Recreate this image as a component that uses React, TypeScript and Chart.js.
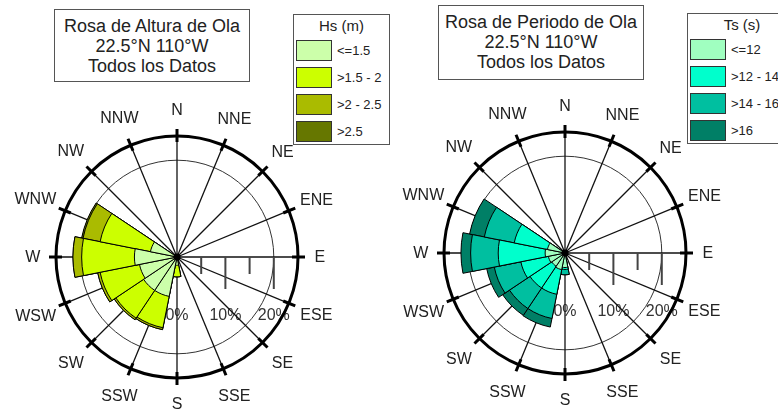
import React, { useEffect, useRef } from 'react';
import { Chart, registerables } from 'chart.js';

Chart.register(...registerables);

// ---------- data ----------
const directions = ['N', 'NNE', 'NE', 'ENE', 'E', 'ESE', 'SE', 'SSE', 'S', 'SSW', 'SW', 'WSW', 'W', 'WNW', 'NW', 'NNW'];

const hsBinLabels = ['<=1.5', '>1.5 - 2', '>2 - 2.5', '>2.5'];
const hsLe15 = [0, 0, 0, 0, 0, 0, 0, 0, 1.7, 8.3, 8.3, 7.9, 8.8, 5.6, 0, 0];
const hs15to2 = [0, 0, 0, 0, 0, 0, 0, 0, 2.4, 6.6, 6.9, 8.3, 10.9, 10.6, 0, 0];
const hs2to25 = [0, 0, 0, 0, 0, 0, 0, 0, 0, 0.4, 0.4, 0.5, 1.8, 3.6, 0, 0];
const hsGt25 = [0, 0, 0, 0, 0, 0, 0, 0, 0, 0, 0, 0, 0, 0.3, 0, 0];

const tsBinLabels = ['<=12', '>12 - 14', '>14 - 16', '>16'];
const tsLe12 = [0, 0, 0, 0, 0, 0, 0, 0, 3.0, 3.5, 3.3, 3.5, 4.1, 3.7, 0, 0];
const ts12to14 = [0, 0, 0, 0, 0, 0, 0, 0, 0.4, 5.2, 5.4, 5.8, 9.7, 7.0, 0, 0];
const ts14to16 = [0, 0, 0, 0, 0, 0, 0, 0, 1.1, 5.1, 5.1, 5.6, 5.7, 6.3, 0, 0];
const tsGt16 = [0, 0, 0, 0, 0, 0, 0, 0, 0, 1.8, 1.7, 1.6, 2.0, 3.1, 0, 0];

const percentTickLabels = ['0%', '10%', '20%'];
const percentTickValues = [0, 10, 20];
const axisMinorTicks = [5, 15];
const axisMajorTicks = [10, 20];
const scaleMax = 25;

const hsTitle = ['Rosa de Altura de Ola', '22.5°N 110°W', 'Todos los Datos'];
const tsTitle = ['Rosa de Periodo de Ola', '22.5°N 110°W', 'Todos los Datos'];
const hsLegendTitle = 'Hs (m)';
const tsLegendTitle = 'Ts (s)';

const hsColors = ['#ccffaa', '#ccff00', '#aabb00', '#667700'];
const tsColors = ['#a0ffc0', '#00ffcc', '#00bfa0', '#007f66'];

const FONT = '"Liberation Sans", Arial, Helvetica, sans-serif';

function cumulative(series: number[][]): number[][] {
  const out: number[][] = [];
  let running = series[0].map(() => 0);
  series.forEach((s) => {
    running = running.map((v, i) => v + s[i]);
    out.push(running.slice());
  });
  return out;
}

const rosePlugin = {
  id: 'roseDecor',
  beforeDatasetsDraw(chart: any) {
    const s = chart.scales.r;
    const ctx = chart.ctx as CanvasRenderingContext2D;
    const cx = s.xCenter;
    const cy = s.yCenter;
    const R = s.getDistanceFromCenterForValue(scaleMax);
    ctx.save();
    // percent labels
    ctx.font = `16px ${FONT}`;
    ctx.fillStyle = '#333';
    ctx.textAlign = 'center';
    ctx.textBaseline = 'middle';
    percentTickValues.forEach((v, i) => {
      ctx.fillText(percentTickLabels[i], cx + s.getDistanceFromCenterForValue(v), cy + 59);
    });
    // 20% circle
    ctx.beginPath();
    ctx.arc(cx, cy, s.getDistanceFromCenterForValue(20), 0, Math.PI * 2);
    ctx.lineWidth = 1;
    ctx.strokeStyle = '#333';
    ctx.stroke();
    // spokes
    ctx.strokeStyle = '#111';
    ctx.lineWidth = 1.3;
    directions.forEach((_, i) => {
      const a = (i * Math.PI) / 8;
      ctx.beginPath();
      ctx.moveTo(cx, cy);
      ctx.lineTo(cx + R * Math.sin(a), cy - R * Math.cos(a));
      ctx.stroke();
    });
    // E axis ticks hanging down
    ctx.strokeStyle = '#444';
    ctx.lineWidth = 2;
    axisMinorTicks.forEach((v) => {
      const x = cx + s.getDistanceFromCenterForValue(v);
      ctx.beginPath();
      ctx.moveTo(x, cy);
      ctx.lineTo(x, cy + 17);
      ctx.stroke();
    });
    axisMajorTicks.forEach((v) => {
      const x = cx + s.getDistanceFromCenterForValue(v);
      ctx.beginPath();
      ctx.moveTo(x, cy);
      ctx.lineTo(x, cy + 32);
      ctx.stroke();
    });
    ctx.restore();
  },
  afterDatasetsDraw(chart: any) {
    const s = chart.scales.r;
    const ctx = chart.ctx as CanvasRenderingContext2D;
    const cx = s.xCenter;
    const cy = s.yCenter;
    const R = s.getDistanceFromCenterForValue(scaleMax);
    ctx.save();
    // outer circle
    ctx.beginPath();
    ctx.arc(cx, cy, R, 0, Math.PI * 2);
    ctx.lineWidth = 3;
    ctx.strokeStyle = '#000';
    ctx.stroke();
    // radial ticks at outer circle
    ctx.lineWidth = 3;
    directions.forEach((_, i) => {
      const a = (i * Math.PI) / 8;
      ctx.beginPath();
      ctx.moveTo(cx + (R - 6) * Math.sin(a), cy - (R - 6) * Math.cos(a));
      ctx.lineTo(cx + (R + 7) * Math.sin(a), cy - (R + 7) * Math.cos(a));
      ctx.stroke();
    });
    // center dot
    ctx.beginPath();
    ctx.arc(cx, cy, 3.5, 0, Math.PI * 2);
    ctx.fillStyle = '#000';
    ctx.fill();
    // direction labels
    ctx.font = `16px ${FONT}`;
    ctx.fillStyle = '#222';
    ctx.textAlign = 'center';
    ctx.textBaseline = 'middle';
    directions.forEach((d, i) => {
      const a = (i * Math.PI) / 8;
      const w = ctx.measureText(d).width;
      const rr = 140 + (w / 2) * Math.abs(Math.sin(a)) * 0.55 + 7 * Math.abs(Math.cos(a));
      ctx.fillText(d, cx + rr * Math.sin(a), cy - rr * Math.cos(a) + 1);
    });
    ctx.restore();
  },
};

interface RoseProps {
  bins: number[][];
  colors: string[];
  left: number;
  padding: { left: number; top: number; right: number; bottom: number };
}

function Rose({ bins, colors, left, padding }: RoseProps) {
  const ref = useRef<HTMLCanvasElement | null>(null);
  useEffect(() => {
    if (!ref.current) return;
    const cum = cumulative(bins);
    const chart = new Chart(ref.current, {
      type: 'polarArea',
      data: {
        labels: directions,
        datasets: cum.map((values, i) => ({
          data: values,
          backgroundColor: colors[i],
          borderColor: '#000',
          borderWidth: 1,
        })),
      },
      options: {
        responsive: false,
        maintainAspectRatio: false,
        animation: false,
        layout: { padding },
        plugins: { legend: { display: false }, tooltip: { enabled: false } },
        scales: {
          r: {
            display: true,
            min: 0,
            max: scaleMax,
            startAngle: -11.25,
            grid: { display: false },
            angleLines: { display: false },
            ticks: { display: false },
            pointLabels: { display: false },
          },
        },
      } as any,
      plugins: [rosePlugin],
    });
    return () => chart.destroy();
  }, []);
  return (
    <canvas
      ref={ref}
      width={389}
      height={410}
      style={{ position: 'absolute', left, top: 0, width: 389, height: 410 }}
    />
  );
}

function TitleBox({ lines, left, top, width, height }: { lines: string[]; left: number; top: number; width: number; height: number }) {
  return (
    <div
      style={{
        position: 'absolute',
        left,
        top,
        width,
        height,
        boxSizing: 'border-box',
        border: '1px solid #555',
        background: '#fff',
        fontFamily: FONT,
        fontSize: 18,
        lineHeight: '20px',
        color: '#222',
        textAlign: 'center',
        paddingTop: 6,
      }}
    >
      {lines.map((l, i) => (
        <div key={i}>{l}</div>
      ))}
    </div>
  );
}

function LegendBox({ title, labels, colors, left, top, width }: { title: string; labels: string[]; colors: string[]; left: number; top: number; width: number }) {
  return (
    <div
      style={{
        position: 'absolute',
        left,
        top,
        width,
        height: 131,
        boxSizing: 'border-box',
        border: '1px solid #555',
        background: '#fff',
        fontFamily: FONT,
        color: '#222',
      }}
    >
      <div style={{ position: 'absolute', left: 0, top: 2, width: width - 2, textAlign: 'center', fontSize: 15, lineHeight: '18px' }}>{title}</div>
      {labels.map((l, i) => (
        <React.Fragment key={i}>
          <div
            style={{
              position: 'absolute',
              left: 2,
              top: 25 + i * 27,
              width: 36,
              height: 21,
              boxSizing: 'border-box',
              border: '1.5px solid #333',
              background: colors[i],
            }}
          />
          <div style={{ position: 'absolute', left: 43, top: 25 + i * 27, height: 21, lineHeight: '21px', fontSize: 13, whiteSpace: 'nowrap' }}>{l}</div>
        </React.Fragment>
      ))}
    </div>
  );
}

export default function App() {
  return (
    <div style={{ position: 'absolute', left: 0, top: 0, width: 778, height: 410, overflow: 'hidden', background: '#fff' }}>
      <Rose
        bins={[hsLe15, hs15to2, hs2to25, hsGt25]}
        colors={hsColors}
        left={0}
        padding={{ left: 56, top: 136, right: 91, bottom: 32 }}
      />
      <Rose
        bins={[tsLe12, ts12to14, ts14to16, tsGt16]}
        colors={tsColors}
        left={389}
        padding={{ left: 55, top: 132, right: 92, bottom: 36 }}
      />
      <TitleBox lines={hsTitle} left={54} top={9} width={196} height={73} />
      <TitleBox lines={tsTitle} left={438} top={5} width={206} height={75} />
      <LegendBox title={hsLegendTitle} labels={hsBinLabels} colors={hsColors} left={293} top={14} width={97} />
      <LegendBox title={tsLegendTitle} labels={tsBinLabels} colors={tsColors} left={687} top={13} width={110} />
    </div>
  );
}
